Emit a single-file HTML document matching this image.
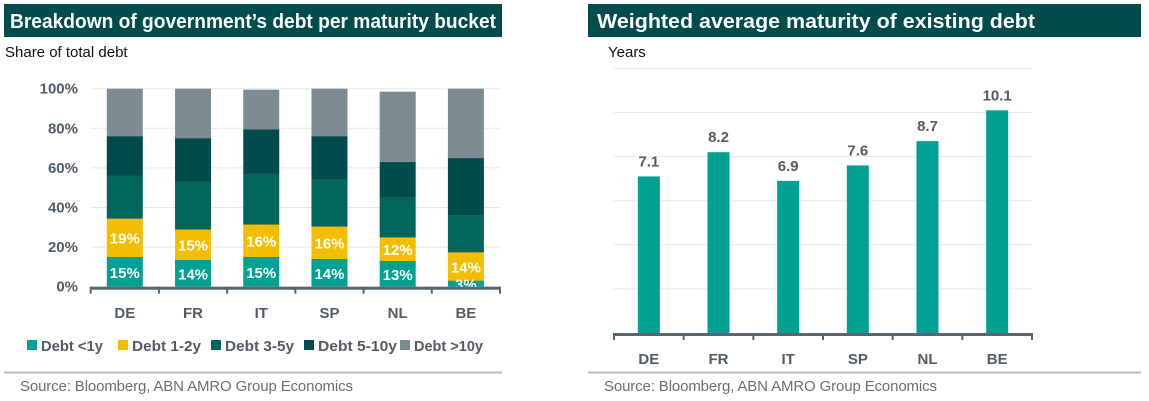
<!DOCTYPE html>
<html><head><meta charset="utf-8">
<style>
body{margin:0;width:1149px;height:401px;background:#fff;overflow:hidden;font-family:"Liberation Sans",sans-serif;}
svg{display:block}
</style></head>
<body>
<svg id="s" width="1149" height="401">
<rect x="4" y="4" width="498" height="33" fill="#004c4c"/>
<text x="10" y="28" fill="#fff" font-size="20" font-weight="bold" textLength="486" lengthAdjust="spacingAndGlyphs">Breakdown of government’s debt per maturity bucket</text>
<text x="5" y="57" fill="#111" font-size="15">Share of total debt</text>
<rect x="588" y="4" width="553" height="33" fill="#004c4c"/>
<text x="597" y="28" fill="#fff" font-size="20" font-weight="bold" textLength="438" lengthAdjust="spacingAndGlyphs">Weighted average maturity of existing debt</text>
<text x="608" y="57" fill="#111" font-size="15">Years</text>
<line x1="4" y1="372.5" x2="502" y2="372.5" stroke="#bbb" stroke-width="2"/>
<line x1="588" y1="372.5" x2="1141" y2="372.5" stroke="#bbb" stroke-width="2"/>
<text x="20" y="391" fill="#6a6f74" font-size="15" textLength="333">Source: Bloomberg, ABN AMRO Group Economics</text>
<text x="604" y="391" fill="#6a6f74" font-size="15" textLength="333">Source: Bloomberg, ABN AMRO Group Economics</text>
<g id="L"></g><g id="R"></g>
</svg>
<script>
const categories=["DE","FR","IT","SP","NL","BE"];
const seriesNames=["Debt <1y","Debt 1-2y","Debt 3-5y","Debt 5-10y","Debt >10y"];
const debtLt1=[15,13.5,15,14,13,3];
const debt1to2=[19.5,15.5,16.5,16.5,12,14.5];
const debt3to5=[21.5,24,25.5,23.5,20,18.5];
const debt5to10=[20,22,22.5,22,18,29];
const debtGt10=[24,25,20,24,35.5,35];
const labelsLt1=["15%","14%","15%","14%","13%","3%"];
const labels1to2=["19%","15%","16%","16%","12%","14%"];
const pctTicks=[0,20,40,60,80,100];
const wam=[7.1,8.2,6.9,7.6,8.7,10.1];
const wamTicks=[0,2,4,6,8,10,12];

const NS="http://www.w3.org/2000/svg";
function mk(p,t,a,txt){const e=document.createElementNS(NS,t);for(const k in a)e.setAttribute(k,a[k]);if(txt!==undefined)e.textContent=txt;p.appendChild(e);return e;}
const colors=["#00a094","#f3be00","#00665c","#004c4c","#7d8b93"];
const txtc="#525c66";
const L=document.getElementById('L');
const lx0=90.7,lx1=500,ly0=286.7,ly1=88.7;
const lyS=v=>ly0-(v/100)*(ly0-ly1);
const lcw=(lx1-lx0)/categories.length;
const lxC=i=>lx0+lcw*(i+0.5);
pctTicks.forEach(t=>{
 const g=mk(L,'line',{x1:lx0,x2:lx1,y1:lyS(t),y2:lyS(t),stroke:'#e6e8ea','stroke-width':1});
 
 const tl=mk(L,'text',{x:78,y:lyS(t)+5,'text-anchor':'end','font-size':15,'font-weight':'bold',fill:txtc},t+'%');
 
});
const series=[debtLt1,debt1to2,debt3to5,debt5to10,debtGt10];
categories.forEach((c,i)=>{
 let cum=0;
 series.forEach((s,j)=>{
  const y0=lyS(cum),y1=lyS(cum+s[i]);
  const r=mk(L,'rect',{x:lxC(i)-18,y:y1,width:36,height:y0-y1,fill:colors[j]});
  
  if(j<4&&cum+s[i]<100) mk(L,'line',{x1:lxC(i)-18,x2:lxC(i)+18,y1:y1,y2:y1,stroke:'#5a6a6a','stroke-width':0.6});
  cum+=s[i];
 });
 const a=mk(L,'text',{x:lxC(i),y:lyS(debtLt1[i]/2)+6,'text-anchor':'middle','font-size':15,'font-weight':'bold',fill:'#fff'},labelsLt1[i]);
 
 const b=mk(L,'text',{x:lxC(i),y:lyS(debtLt1[i]+debt1to2[i]/2)+6,'text-anchor':'middle','font-size':15,'font-weight':'bold',fill:'#fff'},labels1to2[i]);
 
 const cl=mk(L,'text',{x:lxC(i),y:318,'text-anchor':'middle','font-size':15,'font-weight':'bold',fill:txtc},c);
 
});
let ax=mk(L,'line',{x1:lx0,x2:lx1,y1:ly0+1.5,y2:ly0+1.5,stroke:'#5a6570','stroke-width':3});

for(let i=0;i<=categories.length;i++){mk(L,'line',{x1:lx0+lcw*i,x2:lx0+lcw*i,y1:ly0,y2:ly0+7,stroke:'#5a6570','stroke-width':2});}
const lgx=[27,118,211,304,400];
const lgw=[62,69,69,79,69];
seriesNames.forEach((n,j)=>{
 const g=mk(L,'g',{});
 
 mk(g,'rect',{x:lgx[j],y:340,width:10,height:10,fill:colors[j]});
 mk(g,'text',{x:lgx[j]+14,y:351,'font-size':15,'font-weight':'bold',fill:txtc,textLength:lgw[j],lengthAdjust:'spacingAndGlyphs'},n);
});
const R=document.getElementById('R');
const rx0=614,rx1=1032,ry0=333,rpu=22.05;
const ryS=v=>ry0-v*rpu;
const rcw=(rx1-rx0)/categories.length;
const rxC=i=>rx0+rcw*(i+0.5);
wamTicks.forEach(t=>{if(t===0)return;
 const g=mk(R,'line',{x1:rx0,x2:rx1,y1:ryS(t),y2:ryS(t),stroke:'#e6e8ea','stroke-width':1});
 
});
categories.forEach((c,i)=>{
 const r=mk(R,'rect',{x:rxC(i)-11,y:ryS(wam[i]),width:22,height:wam[i]*rpu,fill:'#00a094'});
 
 const t=mk(R,'text',{x:rxC(i),y:ryS(wam[i])-10,'text-anchor':'middle','font-size':15,'font-weight':'bold',fill:txtc},wam[i].toFixed(1));
 
 const cl=mk(R,'text',{x:rxC(i),y:364,'text-anchor':'middle','font-size':15,'font-weight':'bold',fill:txtc},c);
 
});
ax=mk(R,'line',{x1:rx0,x2:rx1,y1:ry0+1.5,y2:ry0+1.5,stroke:'#5a6570','stroke-width':3});

for(let i=0;i<=categories.length;i++){mk(R,'line',{x1:rx0+rcw*i,x2:rx0+rcw*i,y1:ry0,y2:ry0+7,stroke:'#5a6570','stroke-width':2});}
</script>
</body></html>
